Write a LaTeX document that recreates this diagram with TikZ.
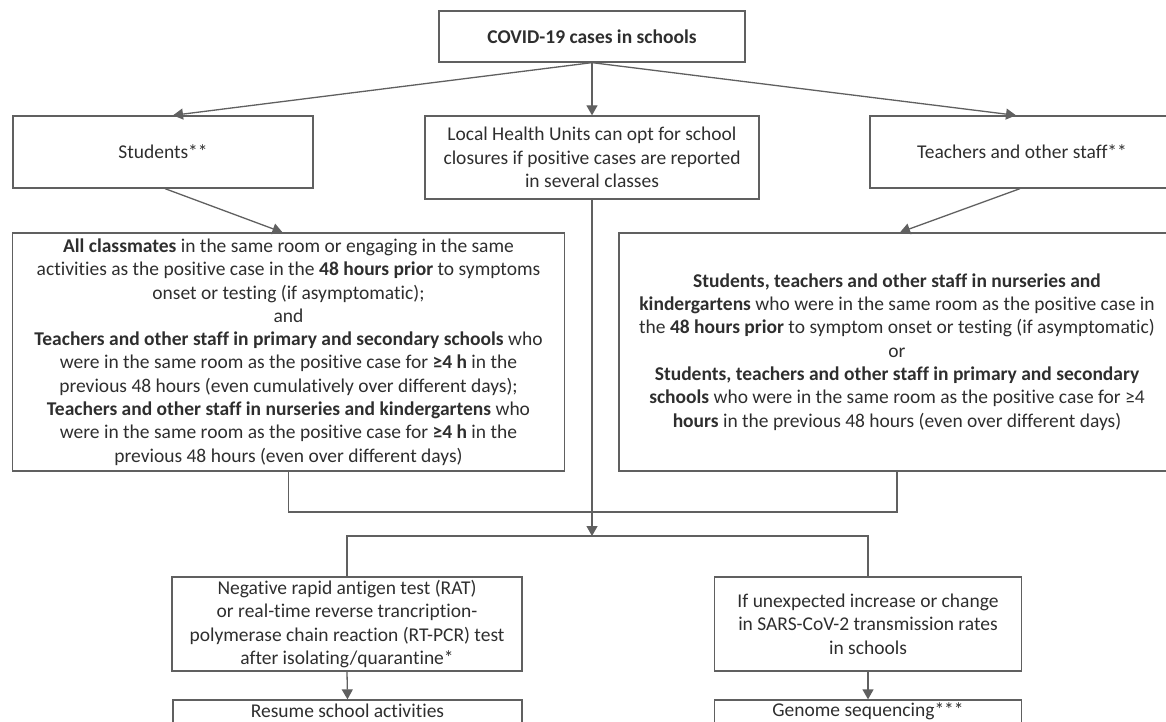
\documentclass[tikz,border=0pt]{standalone}
\usepackage{fontspec}
\setmainfont[Ligatures=NoCommon]{Carlito}
\usetikzlibrary{arrows.meta,calc}
\definecolor{linegray}{HTML}{606060}
\definecolor{txtgray}{HTML}{2E2E2E}
\begin{document}
\begin{tikzpicture}[x=1pt,y=-1pt,
  fnt/.style={font=\fontsize{19.5}{23.3}\selectfont},
  box/.style={draw=linegray, line width=1.3pt, rectangle, inner sep=0pt, align=center, text=txtgray, fnt},
  txt/.style={inner sep=0pt, align=center, text=txtgray, fnt},
  arr/.style={draw=linegray, line width=1.3pt, -{Triangle[length=10pt,width=11pt]}},
  ln/.style={draw=linegray, line width=1.3pt}]
\useasboundingbox (0,0) rectangle (1166,722);
\clip (0,0) rectangle (1166,722);

\node[box, minimum width=306pt, minimum height=51pt] (top) at (592,36.5) {\textbf{COVID-19 cases in schools}};
\node[box, minimum width=300pt, minimum height=72pt] (stud) at (163,152) {Students**};
\node[box, minimum width=334pt, minimum height=83pt] (lhu) at (592,157.5) {Local Health Units can opt for school\\closures if positive cases are reported\\in several classes};
\node[box, minimum width=304pt, minimum height=72pt] (teach) at (1022,152) {Teachers and other staff**};

\node[box, minimum width=552pt, minimum height=238pt] (allc) at (288.5,352) {\textbf{All classmates} in the same room or engaging in the same\\activities as the positive case in the \textbf{48 hours prior} to symptoms\\onset or testing (if asymptomatic);\\and\\\textbf{Teachers and other staff in primary and secondary schools} who\\were in the same room as the positive case for \textbf{≥4 h} in the\\previous 48 hours (even cumulatively over different days);\\\textbf{Teachers and other staff in nurseries and kindergartens} who\\were in the same room as the positive case for \textbf{≥4 h} in the\\previous 48 hours (even over different days)};

\node[box, minimum width=556pt, minimum height=238pt] (staff) at (897,352) {\textbf{Students, teachers and other staff in nurseries and}\\\textbf{kindergartens} who were in the same room as the positive case in\\the \textbf{48 hours prior} to symptom onset or testing (if asymptomatic)\\or\\\textbf{Students, teachers and other staff in primary and secondary}\\\textbf{schools} who were in the same room as the positive case for ≥4\\\textbf{hours} in the previous 48 hours (even over different days)};

\node[box, minimum width=350pt, minimum height=94pt] (rat) at (347,624) {Negative rapid antigen test (RAT)\\or real-time reverse trancription-\\polymerase chain reaction (RT-PCR) test\\after isolating/quarantine*};
\node[box, minimum width=307pt, minimum height=94pt] (unexp) at (868,624) {If unexpected increase or change\\in SARS-CoV-2 transmission rates\\in schools};

\node[box, minimum width=349pt, minimum height=50pt] (resume) at (347.5,725) {};
\node[txt] (resumet) at (347.5,711) {Resume school activities};
\node[box, minimum width=307pt, minimum height=50pt] (genome) at (868,725) {};
\node[txt] (genomet) at (868,711) {Genome sequencing***};

\draw[arr] (top.south) -- ([xshift=10pt]stud.north);
\draw[arr] (top.south) -- (lhu.north);
\draw[arr] (top.south) -- ([xshift=-6pt]teach.north);
\draw[arr] ([xshift=2pt]stud.south) -- ([xshift=-6pt]allc.north);
\draw[arr] ([xshift=-2pt]teach.south) -- ([xshift=3pt]staff.north);

\coordinate (j) at (592,512);
\coordinate (bar) at (592,536);
\draw[ln] (allc.south) |- (j);
\draw[ln] (staff.south) |- (j);
\draw[arr] (lhu.south) -- (bar);
\draw[ln] (rat.north) -- (rat.north |- bar) -- (unexp.north |- bar) -- (unexp.north);
\draw[arr] (rat.south) -- (resume.north);
\draw[arr] (unexp.south) -- (genome.north);
\end{tikzpicture}
\end{document}
